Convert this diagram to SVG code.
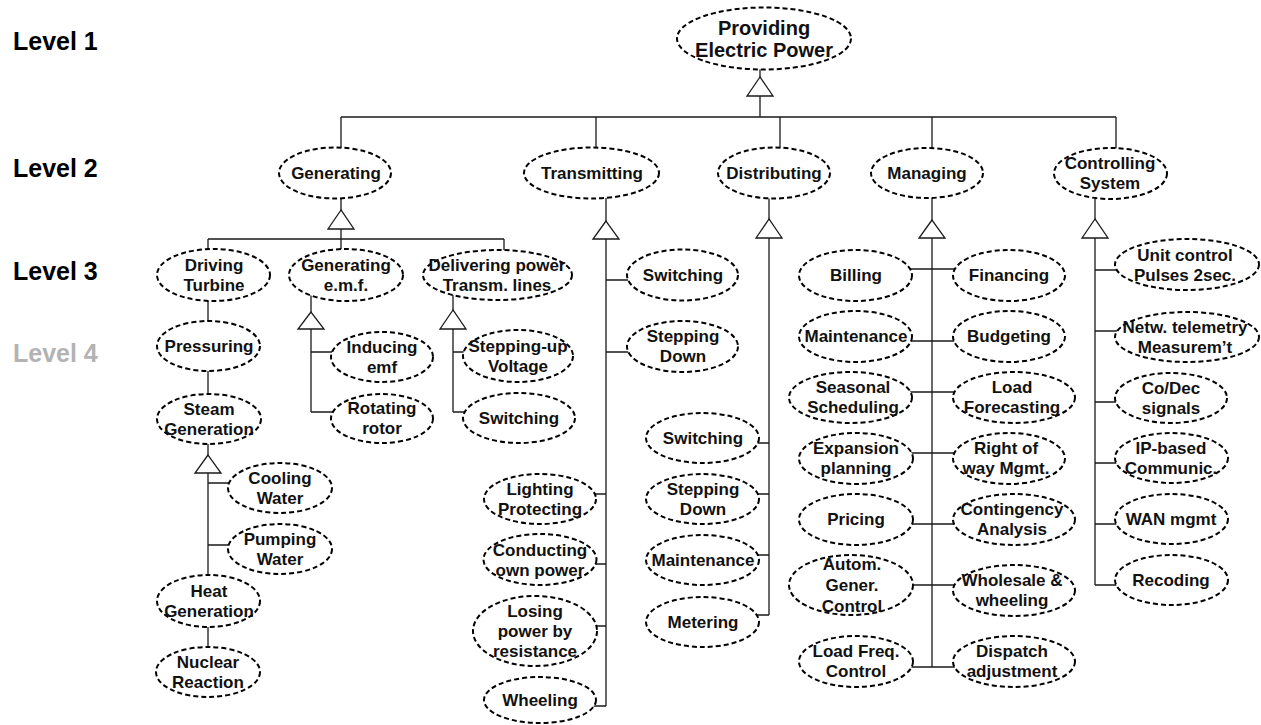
<svg xmlns="http://www.w3.org/2000/svg" width="1261" height="725" viewBox="0 0 1261 725">
  <style>
    .bg { fill: #ffffff; }
    .node ellipse { fill: #ffffff; stroke: #000000; stroke-width: 2; stroke-dasharray: 5 3; }
    .node text { font-family: "Liberation Sans", Arial, sans-serif; font-weight: bold; font-size: 17px; fill: #111111; text-anchor: middle; }
    .node text.big { font-size: 20px; }
    .wire { fill: none; stroke: #1a1a1a; stroke-width: 1.3; }
    .tri { fill: #ffffff; stroke: #1a1a1a; stroke-width: 1.3; }
    .level { font-family: "Liberation Sans", Arial, sans-serif; font-weight: bold; font-size: 25px; fill: #000000; }
    .level.dim { fill: #b3b3b3; }
  </style>

  <rect class="bg" x="0" y="0" width="1261" height="725"/>

  <!-- level captions -->
  <g id="levels">
    <text class="level" x="13" y="50">Level 1</text>
    <text class="level" x="13" y="177">Level 2</text>
    <text class="level" x="13" y="280">Level 3</text>
    <text class="level dim" x="13" y="362">Level 4</text>
  </g>

  <!-- connectors: trunks, bars, branches and decomposition triangles -->
  <g id="connectors">
    <!-- root -->
    <path class="wire" d="M760 69 V117 M341 117 H1116 M341 117 V150 M596 117 V150 M780 117 V150 M932 117 V150 M1116 117 V150"/>
    <!-- Generating -->
    <path class="wire" d="M341 198 V239 M208 239 H504 M208 239 V250 M341 239 V250 M504 239 V251"/>
    <!-- Driving Turbine chain -->
    <path class="wire" d="M208 300 V322 M208 370 V395 M208 443 V575 M208 483 H240 M208 545 H240 M208 626 V648"/>
    <!-- Generating e.m.f. -->
    <path class="wire" d="M311 294 V412 M311 352 H340 M311 412 H340"/>
    <!-- Delivering power -->
    <path class="wire" d="M453 294 V412 M453 352 H475 M453 412 H475"/>
    <!-- Transmitting -->
    <path class="wire" d="M606 197 V706 M606 280 H640 M606 352 H640 M580 494 H606 M580 564 H606 M580 626 H606 M580 706 H606"/>
    <!-- Distributing -->
    <path class="wire" d="M769 198 V615 M740 443 H769 M740 494 H769 M740 555 H769 M740 615 H769"/>
    <!-- Managing -->
    <path class="wire" d="M932 197 V667 M880 269 H990 M880 341 H990 M880 392 H990 M880 453 H990 M880 524 H990 M880 585 H990 M880 667 H990"/>
    <!-- Controlling System -->
    <path class="wire" d="M1095 198 V585 M1095 270 H1140 M1095 331 H1140 M1095 402 H1140 M1095 463 H1140 M1095 524 H1140 M1095 585 H1140"/>

    <polygon class="tri" points="760,77 747,96 773,96"/>
    <polygon class="tri" points="341,210 328,229 354,229"/>
    <polygon class="tri" points="208,455 195,473 221,473"/>
    <polygon class="tri" points="311,312 298,329 324,329"/>
    <polygon class="tri" points="453,310 440,329 466,329"/>
    <polygon class="tri" points="606,221 593,239 619,239"/>
    <polygon class="tri" points="769,219 756,238 782,238"/>
    <polygon class="tri" points="932,220 919,238 945,238"/>
    <polygon class="tri" points="1095,219 1082,238 1108,238"/>
  </g>

  <!-- level 1 -->
  <g id="n-providing-power" class="node">
    <ellipse cx="764" cy="38.5" rx="87" ry="31"/>
    <text class="big"><tspan x="764" y="35">Providing</tspan><tspan x="764" y="57">Electric Power</tspan></text>
  </g>

  <!-- level 2 -->
  <g id="n-generating" class="node">
    <ellipse cx="335" cy="173" rx="56" ry="25.5"/>
    <text x="336" y="179">Generating</text>
  </g>
  <g id="n-transmitting" class="node">
    <ellipse cx="591.5" cy="173" rx="67.5" ry="25.5"/>
    <text x="592" y="179">Transmitting</text>
  </g>
  <g id="n-distributing" class="node">
    <ellipse cx="774" cy="173" rx="56" ry="25.5"/>
    <text x="774" y="179">Distributing</text>
  </g>
  <g id="n-managing" class="node">
    <ellipse cx="927" cy="173" rx="56" ry="25"/>
    <text x="927" y="179">Managing</text>
  </g>
  <g id="n-controlling-system" class="node">
    <ellipse cx="1110.5" cy="173.5" rx="56.5" ry="25.5"/>
    <text><tspan x="1110" y="169">Controlling</tspan><tspan x="1110" y="189">System</tspan></text>
  </g>

  <!-- generating branch -->
  <g id="n-driving-turbine" class="node">
    <ellipse cx="213.5" cy="275" rx="56.5" ry="26"/>
    <text><tspan x="214" y="271">Driving</tspan><tspan x="214" y="291">Turbine</tspan></text>
  </g>
  <g id="n-generating-emf" class="node">
    <ellipse cx="346" cy="275" rx="57" ry="26"/>
    <text><tspan x="346" y="271">Generating</tspan><tspan x="346" y="291">e.m.f.</tspan></text>
  </g>
  <g id="n-delivering-power" class="node">
    <ellipse cx="497.5" cy="275" rx="74.5" ry="25"/>
    <text><tspan x="497" y="271">Delivering power</tspan><tspan x="497" y="291">Transm. lines</tspan></text>
  </g>
  <g id="n-pressuring" class="node">
    <ellipse cx="208.5" cy="346" rx="51.5" ry="25"/>
    <text x="209" y="352">Pressuring</text>
  </g>
  <g id="n-steam-generation" class="node">
    <ellipse cx="209" cy="419" rx="52" ry="25"/>
    <text><tspan x="209" y="415">Steam</tspan><tspan x="209" y="435">Generation</tspan></text>
  </g>
  <g id="n-cooling-water" class="node">
    <ellipse cx="280" cy="488" rx="52" ry="25"/>
    <text><tspan x="280" y="484">Cooling</tspan><tspan x="280" y="504">Water</tspan></text>
  </g>
  <g id="n-pumping-water" class="node">
    <ellipse cx="280" cy="549" rx="52" ry="25"/>
    <text><tspan x="280" y="545">Pumping</tspan><tspan x="280" y="565">Water</tspan></text>
  </g>
  <g id="n-heat-generation" class="node">
    <ellipse cx="208.5" cy="601" rx="51.5" ry="26"/>
    <text><tspan x="209" y="597">Heat</tspan><tspan x="209" y="617">Generation</tspan></text>
  </g>
  <g id="n-nuclear-reaction" class="node">
    <ellipse cx="208" cy="672" rx="52" ry="25"/>
    <text><tspan x="208" y="668">Nuclear</tspan><tspan x="208" y="688">Reaction</tspan></text>
  </g>
  <g id="n-inducing-emf" class="node">
    <ellipse cx="382" cy="357" rx="51" ry="25"/>
    <text><tspan x="382" y="353">Inducing</tspan><tspan x="382" y="373">emf</tspan></text>
  </g>
  <g id="n-rotating-rotor" class="node">
    <ellipse cx="382" cy="418.5" rx="51" ry="24.5"/>
    <text><tspan x="382" y="414">Rotating</tspan><tspan x="382" y="434">rotor</tspan></text>
  </g>
  <g id="n-stepping-up-voltage" class="node">
    <ellipse cx="518" cy="356" rx="55" ry="26"/>
    <text><tspan x="518" y="352">Stepping-up</tspan><tspan x="518" y="372">Voltage</tspan></text>
  </g>
  <g id="n-delivery-switching" class="node">
    <ellipse cx="519" cy="418" rx="56" ry="25"/>
    <text x="519" y="424">Switching</text>
  </g>

  <!-- transmitting branch -->
  <g id="n-trans-switching" class="node">
    <ellipse cx="682.5" cy="275" rx="55.5" ry="25.5"/>
    <text x="683" y="281">Switching</text>
  </g>
  <g id="n-trans-stepping-down" class="node">
    <ellipse cx="682.5" cy="346.5" rx="55.5" ry="25.5"/>
    <text><tspan x="683" y="342">Stepping</tspan><tspan x="683" y="362">Down</tspan></text>
  </g>
  <g id="n-lighting-protecting" class="node">
    <ellipse cx="540" cy="499" rx="56" ry="25"/>
    <text><tspan x="540" y="495">Lighting</tspan><tspan x="540" y="515">Protecting</tspan></text>
  </g>
  <g id="n-conducting-own-power" class="node">
    <ellipse cx="540" cy="559.5" rx="56.5" ry="25.5"/>
    <text><tspan x="540" y="556">Conducting</tspan><tspan x="540" y="576">own power</tspan></text>
  </g>
  <g id="n-losing-power" class="node">
    <ellipse cx="535" cy="631" rx="62" ry="35"/>
    <text><tspan x="535" y="617">Losing</tspan><tspan x="535" y="637">power by</tspan><tspan x="535" y="657">resistance</tspan></text>
  </g>
  <g id="n-wheeling" class="node">
    <ellipse cx="540" cy="700" rx="56" ry="23"/>
    <text x="540" y="706">Wheeling</text>
  </g>

  <!-- distributing branch -->
  <g id="n-dist-switching" class="node">
    <ellipse cx="702.5" cy="438" rx="56.5" ry="25"/>
    <text x="703" y="444">Switching</text>
  </g>
  <g id="n-dist-stepping-down" class="node">
    <ellipse cx="702.5" cy="499" rx="56.5" ry="25"/>
    <text><tspan x="703" y="495">Stepping</tspan><tspan x="703" y="515">Down</tspan></text>
  </g>
  <g id="n-dist-maintenance" class="node">
    <ellipse cx="702.5" cy="560" rx="56.5" ry="25"/>
    <text x="703" y="566">Maintenance</text>
  </g>
  <g id="n-dist-metering" class="node">
    <ellipse cx="702.5" cy="622" rx="56.5" ry="25"/>
    <text x="703" y="628">Metering</text>
  </g>

  <!-- managing branch -->
  <g id="n-billing" class="node">
    <ellipse cx="855.5" cy="275.5" rx="56.5" ry="25.5"/>
    <text x="856" y="281">Billing</text>
  </g>
  <g id="n-financing" class="node">
    <ellipse cx="1009" cy="275.5" rx="56" ry="25.5"/>
    <text x="1009" y="281">Financing</text>
  </g>
  <g id="n-mgmt-maintenance" class="node">
    <ellipse cx="855.5" cy="336.5" rx="56.5" ry="25.5"/>
    <text x="856" y="342">Maintenance</text>
  </g>
  <g id="n-budgeting" class="node">
    <ellipse cx="1009" cy="336.5" rx="56" ry="25.5"/>
    <text x="1009" y="342">Budgeting</text>
  </g>
  <g id="n-seasonal-scheduling" class="node">
    <ellipse cx="850.5" cy="397.5" rx="61.5" ry="25.5"/>
    <text><tspan x="853" y="393">Seasonal</tspan><tspan x="853" y="413">Scheduling</tspan></text>
  </g>
  <g id="n-load-forecasting" class="node">
    <ellipse cx="1014" cy="397.5" rx="61" ry="25.5"/>
    <text><tspan x="1012" y="393">Load</tspan><tspan x="1012" y="413">Forecasting</tspan></text>
  </g>
  <g id="n-expansion-planning" class="node">
    <ellipse cx="856" cy="458.5" rx="57" ry="25.5"/>
    <text><tspan x="856" y="454">Expansion</tspan><tspan x="856" y="474">planning</tspan></text>
  </g>
  <g id="n-right-of-way" class="node">
    <ellipse cx="1009" cy="458.5" rx="56" ry="25.5"/>
    <text><tspan x="1006" y="454">Right of</tspan><tspan x="1006" y="474">way Mgmt.</tspan></text>
  </g>
  <g id="n-pricing" class="node">
    <ellipse cx="856" cy="519.5" rx="57" ry="25.5"/>
    <text x="856" y="525">Pricing</text>
  </g>
  <g id="n-contingency-analysis" class="node">
    <ellipse cx="1014" cy="519.5" rx="61" ry="25.5"/>
    <text><tspan x="1012" y="515">Contingency</tspan><tspan x="1012" y="535">Analysis</tspan></text>
  </g>
  <g id="n-agc" class="node">
    <ellipse cx="851" cy="585" rx="62" ry="30"/>
    <text><tspan x="852" y="570">Autom.</tspan><tspan x="852" y="591">Gener.</tspan><tspan x="852" y="612">Control</tspan></text>
  </g>
  <g id="n-wholesale-wheeling" class="node">
    <ellipse cx="1014" cy="590.5" rx="61" ry="25.5"/>
    <text><tspan x="1012" y="586">Wholesale &amp;</tspan><tspan x="1012" y="606">wheeling</tspan></text>
  </g>
  <g id="n-load-freq-control" class="node">
    <ellipse cx="856" cy="661.5" rx="57" ry="25.5"/>
    <text><tspan x="856" y="657">Load Freq.</tspan><tspan x="856" y="677">Control</tspan></text>
  </g>
  <g id="n-dispatch-adjustment" class="node">
    <ellipse cx="1014" cy="661.5" rx="61" ry="25.5"/>
    <text><tspan x="1012" y="657">Dispatch</tspan><tspan x="1012" y="677">adjustment</tspan></text>
  </g>

  <!-- controlling system branch -->
  <g id="n-unit-control" class="node">
    <ellipse cx="1187" cy="264.5" rx="72" ry="25.5"/>
    <text><tspan x="1185" y="261">Unit control</tspan><tspan x="1185" y="281">Pulses 2sec.</tspan></text>
  </g>
  <g id="n-network-telemetry" class="node">
    <ellipse cx="1187" cy="337" rx="72" ry="25"/>
    <text><tspan x="1185" y="333">Netw. telemetry</tspan><tspan x="1185" y="353">Measurem’t</tspan></text>
  </g>
  <g id="n-codec-signals" class="node">
    <ellipse cx="1171" cy="398" rx="56" ry="25"/>
    <text><tspan x="1171" y="394">Co/Dec</tspan><tspan x="1171" y="414">signals</tspan></text>
  </g>
  <g id="n-ip-communic" class="node">
    <ellipse cx="1171.5" cy="458" rx="56.5" ry="25"/>
    <text><tspan x="1171" y="454">IP-based</tspan><tspan x="1171" y="474">Communic.</tspan></text>
  </g>
  <g id="n-wan-mgmt" class="node">
    <ellipse cx="1171.5" cy="519" rx="56.5" ry="25"/>
    <text x="1171" y="525">WAN mgmt</text>
  </g>
  <g id="n-recoding" class="node">
    <ellipse cx="1171.5" cy="580" rx="56.5" ry="25"/>
    <text x="1171" y="586">Recoding</text>
  </g>
</svg>
